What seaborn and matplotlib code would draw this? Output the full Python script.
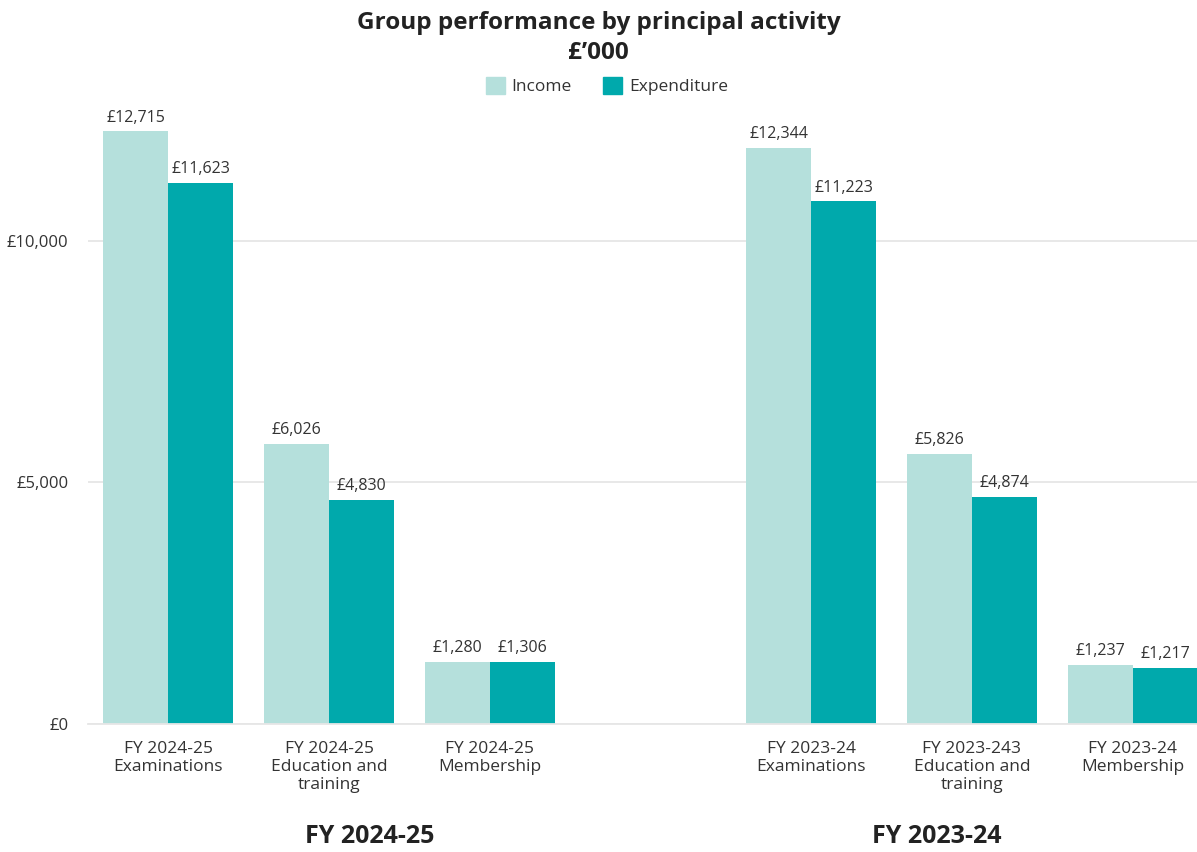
import numpy as np
import pandas as pd
import matplotlib.pyplot as plt
import matplotlib.transforms as mtransforms
import seaborn as sns

# ------------------------------------------------------------------
# Data (bar heights as drawn, labels as printed)
# ------------------------------------------------------------------
categories = [
    "FY 2024-25\nExaminations",
    "FY 2024-25\nEducation and\ntraining",
    "FY 2024-25\nMembership",
    "FY 2023-24\nExaminations",
    "FY 2023-243\nEducation and\ntraining",
    "FY 2023-24\nMembership",
]
income      = [12263, 5794, 1288, 11912, 5593, 1226]
expenditure = [11195, 4636, 1288, 10816, 4698, 1164]
income_labels      = ["£12,715", "£6,026", "£1,280", "£12,344", "£5,826", "£1,237"]
expenditure_labels = ["£11,623", "£4,830", "£1,306", "£11,223", "£4,874", "£1,217"]
group_titles = ["FY 2024-25", "FY 2023-24"]
yticks = [0, 5000, 10000]
ytick_labels = ["£0", "£5,000", "£10,000"]

INCOME_C = "#b5e0dc"
EXPEND_C = "#00a9ac"
TEXT_C   = "#333333"

df = pd.DataFrame({
    "category": categories * 2,
    "value": income + expenditure,
    "series": ["Income"] * len(categories) + ["Expenditure"] * len(categories),
})
order = categories[:3] + [""] + categories[3:]

sns.set_theme(style="white")
plt.rcParams["font.family"] = ["Open Sans", "DejaVu Sans"]

fig = plt.figure(figsize=(11.97, 8.52), dpi=100)
ax = fig.add_axes([0.0735, 0.1499, 0.9265, 0.7381])

sns.barplot(data=df, x="category", y="value", hue="series", order=order,
            hue_order=["Income", "Expenditure"],
            palette=[INCOME_C, EXPEND_C], width=0.81, gap=0,
            saturation=1, legend=False, linewidth=0, ax=ax)

for cont, labs in zip(ax.containers, [income_labels, expenditure_labels]):
    ax.bar_label(cont, labels=labs, padding=4, fontsize=11.5, color=TEXT_C)

ax.set_xlim(-0.5, 6.4)
ax.set_ylim(0, 13000)
ax.set_yticks(yticks)
ax.set_yticklabels(ytick_labels, fontsize=12, color=TEXT_C)
ax.set_xticks(range(len(order)))
ax.set_xticklabels(order, fontsize=12.5, color=TEXT_C, linespacing=1.15)
ax.tick_params(axis="both", length=0)
ax.tick_params(axis="x", pad=12)
ax.tick_params(axis="y", pad=14)
ax.set_xlabel("")
ax.set_ylabel("")
ax.yaxis.grid(True, color="#e6e6e6", linewidth=1.3)
ax.set_axisbelow(True)
for s in ["top", "right", "left"]:
    ax.spines[s].set_visible(False)
ax.spines["bottom"].set_color("#e6e6e6")
ax.spines["bottom"].set_linewidth(1.3)

# group captions under the tick labels
trans = mtransforms.blended_transform_factory(ax.transData, ax.transAxes)
for xpos, t in zip([1.25, 4.78], group_titles):
    ax.text(xpos, -0.178, t, transform=trans, ha="center", va="center",
            fontsize=18, fontweight="bold", color="#222222")

fig.suptitle("Group performance by principal activity\n£’000", y=0.987,
             fontsize=17.5, fontweight="bold", color="#222222", linespacing=1.35)

handles = [plt.Rectangle((0, 0), 1, 1, color=INCOME_C),
           plt.Rectangle((0, 0), 1, 1, color=EXPEND_C)]
fig.legend(handles, ["Income", "Expenditure"], loc="center", ncol=2,
           bbox_to_anchor=(0.507, 0.899), frameon=False, fontsize=12.5,
           handlelength=1.1, handleheight=1.1, handletextpad=0.4,
           columnspacing=1.8, labelcolor=TEXT_C)

fig.savefig("out.png", dpi=100)
